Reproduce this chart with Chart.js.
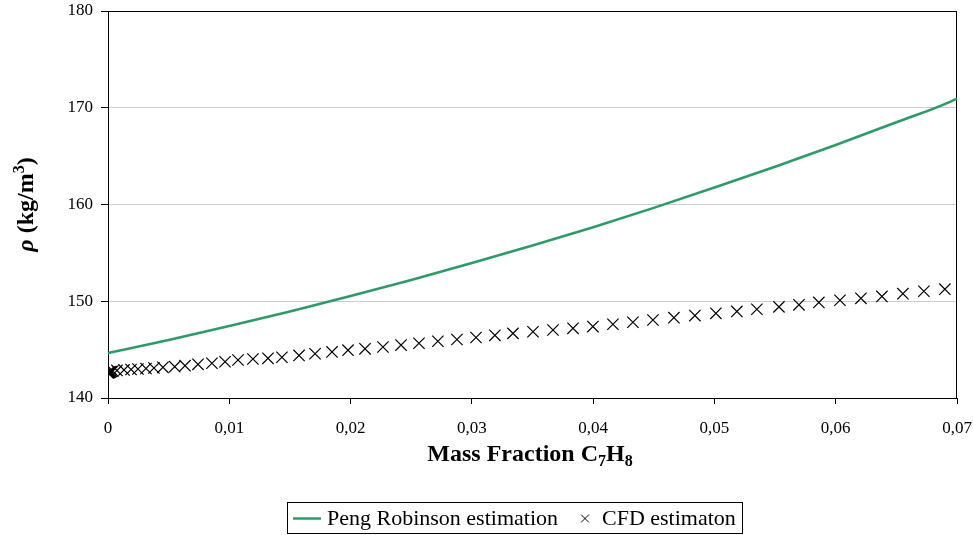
<!DOCTYPE html>
<html>
<head>
<meta charset="utf-8">
<script src="https://cdn.jsdelivr.net/npm/chart.js@4.4.1/dist/chart.umd.min.js"></script>
<style>
  html, body { margin: 0; padding: 0; background: #ffffff; }
  #wrap { width: 973px; height: 535px; }
</style>
</head>
<body>
<div id="wrap"><canvas id="c" width="973" height="535"></canvas></div>
<script>
// Peng-Robinson density estimate vs. toluene mass fraction
const prX   = [0, 0.005, 0.01, 0.015, 0.02, 0.025, 0.03, 0.035, 0.04, 0.045, 0.05, 0.055, 0.06, 0.065, 0.07, 0.0704];
const prRho = [144.65, 146.0, 147.45, 148.95, 150.55, 152.2, 153.95, 155.75, 157.65, 159.65, 161.75, 163.9, 166.15, 168.5, 170.95, 171.25];

// CFD density estimate
const cfdX = [0, 0.00005, 0.0001, 0.00015, 0.0002, 0.0003, 0.0004,
  0.00074, 0.00132, 0.0019, 0.00247, 0.00313, 0.00379, 0.00453, 0.0055, 0.00635,
  0.00742, 0.00857, 0.00965, 0.01072, 0.01195, 0.01319, 0.01434, 0.01575, 0.01707,
  0.01847, 0.01979, 0.02119, 0.02267, 0.02416, 0.02564, 0.0272, 0.02877, 0.03034,
  0.0319, 0.03339, 0.03504, 0.03669, 0.03834, 0.03998, 0.04163, 0.04328, 0.04493,
  0.04666, 0.04839, 0.05012, 0.05185, 0.0535, 0.05532, 0.05697, 0.05861, 0.06035,
  0.06208, 0.06381, 0.06554, 0.06727, 0.069];
const cfdRho = [142.6, 142.62, 142.65, 142.68, 142.7, 142.74, 142.78,
  142.85, 142.9, 142.95, 143.0, 143.05, 143.1, 143.17, 143.24, 143.34,
  143.48, 143.59, 143.75, 143.93, 144.03, 144.1, 144.21, 144.4, 144.57,
  144.76, 144.94, 145.08, 145.27, 145.47, 145.66, 145.87, 146.05, 146.25,
  146.48, 146.68, 146.85, 147.03, 147.2, 147.38, 147.62, 147.83, 148.06,
  148.3, 148.52, 148.75, 148.95, 149.17, 149.42, 149.63, 149.88, 150.1,
  150.3, 150.5, 150.78, 151.03, 151.25];

// Axis ticks
const xTicks = [0, 0.01, 0.02, 0.03, 0.04, 0.05, 0.06, 0.07];
const xTickLabels = ['0', '0,01', '0,02', '0,03', '0,04', '0,05', '0,06', '0,07'];
const yTicks = [140, 150, 160, 170, 180];

const seriesNames = ['Peng Robinson estimation', 'CFD estimaton'];

const SERIF = "'Liberation Serif', 'Times New Roman', serif";
const GREEN = '#2f9a68';

const prPoints = prX.map((x, i) => ({ x: x, y: prRho[i] }));
const cfdPoints = cfdX.map((x, i) => ({ x: x, y: cfdRho[i] }));

// Frame around the plot area
const frame = {
  id: 'frame',
  beforeDatasetsDraw(chart) {
    const { ctx, chartArea: a } = chart;
    ctx.save();
    ctx.strokeStyle = '#000';
    ctx.lineWidth = 1;
    ctx.strokeRect(Math.round(a.left) + 0.5, Math.round(a.top) + 0.5,
      Math.round(a.right - a.left) - 1, Math.round(a.bottom - a.top));
    ctx.restore();
  }
};

// Draws text segments with sub/superscripts along the current baseline
function drawRuns(ctx, runs, x, y) {
  let cx = x;
  runs.forEach(r => {
    ctx.font = r.font;
    ctx.fillText(r.t, cx, y + (r.dy || 0));
    cx += ctx.measureText(r.t).width;
  });
  return cx - x;
}
function runsWidth(ctx, runs) {
  let w = 0;
  runs.forEach(r => { ctx.font = r.font; w += ctx.measureText(r.t).width; });
  return w;
}

// Axis titles and boxed legend
const annotations = {
  id: 'annotations',
  afterDraw(chart) {
    const { ctx, chartArea: a } = chart;
    ctx.save();
    ctx.fillStyle = '#000';
    ctx.textBaseline = 'alphabetic';
    ctx.textAlign = 'left';

    // x title
    const big = 'bold 24px ' + SERIF;
    const small = 'bold 16px ' + SERIF;
    const xRuns = [
      { t: 'Mass Fraction C', font: big },
      { t: '7', font: small, dy: 5 },
      { t: 'H', font: big },
      { t: '8', font: small, dy: 5 }
    ];
    const xw = runsWidth(ctx, xRuns);
    drawRuns(ctx, xRuns, 530 - xw / 2, 461);

    // y title (rotated)
    const yRuns = [
      { t: '\u03C1', font: 'italic bold 24px ' + SERIF },
      { t: ' (kg/m', font: big },
      { t: '3', font: small, dy: -9 },
      { t: ')', font: big }
    ];
    const yw = runsWidth(ctx, yRuns);
    ctx.save();
    ctx.translate(33, (a.top + a.bottom) / 2);
    ctx.rotate(-Math.PI / 2);
    drawRuns(ctx, yRuns, -yw / 2, 0);
    ctx.restore();

    // legend
    const lf = '22px ' + SERIF;
    ctx.font = lf;
    const t1 = seriesNames[0], t2 = seriesNames[1];
    const w1 = ctx.measureText(t1).width, w2 = ctx.measureText(t2).width;
    const lineLen = 28, gap = 6, mid = 22, mark = 10;
    const pad = 6;
    const total = pad + lineLen + gap + w1 + mid + mark + gap + 6 + w2 + pad;
    const bx = Math.round(514 - total / 2), by = 502, bh = 31;
    ctx.strokeStyle = '#000';
    ctx.lineWidth = 1;
    ctx.strokeRect(bx + 0.5, by + 0.5, Math.round(total), bh);
    const cy = by + bh / 2 + 1;
    let x = bx + pad;
    ctx.strokeStyle = GREEN;
    ctx.lineWidth = 2.5;
    ctx.beginPath(); ctx.moveTo(x, cy); ctx.lineTo(x + lineLen, cy); ctx.stroke();
    x += lineLen + gap;
    ctx.fillStyle = '#000';
    ctx.textBaseline = 'middle';
    ctx.font = lf;
    ctx.fillText(t1, x, cy + 1);
    x += w1 + mid;
    ctx.strokeStyle = '#000';
    ctx.fillStyle = '#000';
    ctx.lineWidth = 1;
    Chart.helpers.drawPoint(ctx, { pointStyle: 'crossRot', radius: 5.5, borderWidth: 1 }, x + mark / 2, cy);
    x += mark + gap + 6;
    ctx.font = lf;
    ctx.fillText(t2, x, cy + 1);
    ctx.restore();
  }
};

new Chart(document.getElementById('c'), {
  type: 'scatter',
  data: {
    datasets: [
      {
        label: seriesNames[0],
        data: prPoints,
        showLine: true,
        borderColor: GREEN,
        backgroundColor: GREEN,
        borderWidth: 2.6,
        pointRadius: 0,
        cubicInterpolationMode: 'monotone',
        clip: false,
        order: 1
      },
      {
        label: seriesNames[1],
        data: cfdPoints,
        showLine: false,
        pointStyle: 'crossRot',
        pointRadius: 8,
        pointBorderWidth: 1.2,
        borderColor: '#000',
        backgroundColor: '#000',
        order: 0
      }
    ]
  },
  options: {
    responsive: false,
    animation: false,
    devicePixelRatio: 1,
    layout: { padding: { left: 0, right: 16, top: 11, bottom: 0 } },
    plugins: { legend: { display: false }, tooltip: { enabled: false } },
    scales: {
      x: {
        type: 'linear',
        min: 0,
        max: 0.07,
        afterBuildTicks(scale) { scale.ticks = xTicks.map(v => ({ value: v })); },
        afterFit(scale) {
          scale.height = 137;
          scale.paddingLeft = 0;
          scale.paddingRight = 0;
        },
        ticks: {
          color: '#000',
          padding: 14,
          font: { family: SERIF, size: 17 },
          maxRotation: 0,
          callback(v) { const i = xTicks.indexOf(v); return i >= 0 ? xTickLabels[i] : ''; }
        },
        grid: { drawOnChartArea: false, drawTicks: true, tickLength: 6, tickColor: '#000' },
        border: { display: true, color: '#000', width: 1 }
      },
      y: {
        min: 140,
        max: 180,
        afterBuildTicks(scale) { scale.ticks = yTicks.map(v => ({ value: v })); },
        afterFit(scale) {
          scale.width = 108;
          scale.paddingTop = 0;
          scale.paddingBottom = 0;
        },
        ticks: {
          color: '#000',
          padding: 8,
          font: { family: SERIF, size: 17 }
        },
        grid: { color: '#cccccc', lineWidth: 1, drawTicks: true, tickLength: 7, tickColor: '#000' },
        border: { display: true, color: '#000', width: 1 }
      }
    }
  },
  plugins: [frame, annotations]
});
</script>
</body>
</html>
